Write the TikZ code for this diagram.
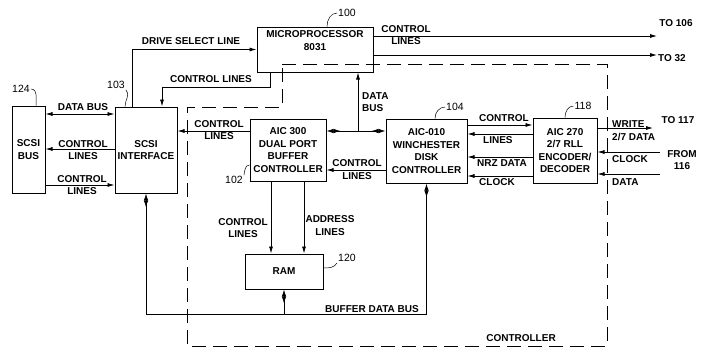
\documentclass[tikz,border=0pt]{standalone}
\usepackage{fontspec}
\setmainfont{Liberation Sans}
\usetikzlibrary{arrows.meta}

\begin{document}
\begin{tikzpicture}[>={Latex[length=7pt,width=4pt]}, x=1pt, y=-1pt, font=\fontsize{10}{12.5}\selectfont\bfseries,
  blk/.style={draw, line width=1pt, align=center, inner sep=0pt},
  wire/.style={line width=0.8pt},
  both/.style={wire, -{Latex[length=7pt,width=4.5pt,reversed]Latex[length=7pt,width=4.5pt]}},
  lbl/.style={inner sep=0pt, align=center},
  refno/.style={inner sep=1pt, font=\fontsize{10.5}{12}\selectfont},
  lead/.style={line width=0.5pt}]

\useasboundingbox (0,0) rectangle (701,351);

% blocks
\node[blk, minimum width=33, minimum height=87] (scsibus) at (28.5,149.5) {SCSI\\BUS}; %124
\node[blk, minimum width=62, minimum height=86] (scsiif) at (146,150) {SCSI\\INTERFACE}; %103
\node[blk, minimum width=116, minimum height=45] (micro) at (315,49.5) {MICROPROCESSOR\\8031\\[5pt]\mbox{}}; %100
\node[blk, minimum width=76, minimum height=62] (aic300) at (288,150) {AIC 300\\DUAL PORT\\BUFFER\\CONTROLLER}; %102
\node[blk, minimum width=81, minimum height=64] (aic010) at (426.5,151) {AIC-010\\WINCHESTER\\DISK\\CONTROLLER}; %104
\node[blk, minimum width=64, minimum height=65] (aic270) at (565,150.5) {AIC 270\\2/7 RLL\\ENCODER/\\DECODER}; %118
\node[blk, minimum width=78, minimum height=35] (ram) at (284,271.5) {RAM}; %120

% levels and bends
\coordinate (ydb) at (0,114);
\coordinate (yc1) at (0,149);
\coordinate (yc2) at (0,185);
\coordinate (yc3) at (0,170);
\coordinate (yw1) at (0,125);
\coordinate (yw2) at (0,134);
\coordinate (yw3) at (0,157);
\coordinate (yw4) at (0,176);
\coordinate (jn) at (358,131); %data bus junction
\coordinate (ds) at (132,0);
\coordinate (cl1) at (270,87);
\coordinate (cl2) at (162,87);
\coordinate (rc) at (271,0);
\coordinate (ra) at (304,0);
\coordinate (to106) at (657,36);
\coordinate (to32) at (657,55);
\coordinate (to117) at (653,128);
\coordinate (fclk) at (660,152);
\coordinate (fdat) at (660,174);
\coordinate (bufl) at (146,314);
\coordinate (bufr) at (426.5,314);

% scsi side
\draw[wire, <->] (scsibus.east |- ydb) -- (scsiif.west |- ydb);
\draw[wire, ->] (scsiif.west |- yc1) -- (scsibus.east |- yc1);
\draw[wire, ->] (scsibus.east |- yc2) -- (scsiif.west |- yc2);
\node[lbl] (tdb) at (83,107) {DATA BUS};
\node[lbl] (tc1) at (83,150) {CONTROL\\LINES};
\node[lbl] (tc2) at (82,185) {CONTROL\\LINES};

% microprocessor
\draw[wire, ->] (scsiif.north -| ds) |- (micro.west);
\draw[wire, ->] (micro.south -| cl1) -- (cl1) -- (cl2) -- (scsiif.north -| cl2);
\draw[wire, ->] (micro.east |- to106) -- (to106);
\draw[wire, ->] (micro.east |- to32) -- (to32);
\draw[wire, ->] (jn) -- (micro.south -| jn);
\node[lbl] (tds) at (191,41) {DRIVE SELECT LINE};
\node[lbl] (tcm) at (211,79) {CONTROL LINES};
\node[lbl] (tcr) at (406,35) {CONTROL\\LINES};
\node[lbl, anchor=west, align=left] (tbus) at (362,102) {DATA\\BUS};
\node[lbl] (t106) at (676,23) {TO 106};
\node[lbl] (t32) at (672,58) {TO 32};

% buffer and disk controllers
\draw[both] (jn) -- (aic300.east |- jn);
\draw[both] (jn) -- (aic010.west |- jn);
\draw[wire, ->] (aic300.west |- jn) -- (scsiif.east |- jn);
\draw[wire, ->] (aic010.west |- yc3) -- (aic300.east |- yc3);
\draw[wire, ->] (aic300.south -| rc) -- (ram.north -| rc);
\draw[wire, ->] (aic300.south -| ra) -- (ram.north -| ra);
\node[lbl] (tc3) at (219,130) {CONTROL\\LINES};
\node[lbl] (tc4) at (357,169.5) {CONTROL\\LINES};
\node[lbl] (tc5) at (243,228) {CONTROL\\LINES};
\node[lbl] (tad) at (330,225.5) {ADDRESS\\LINES};

% encoder
\draw[wire, ->] (aic010.east |- yw1) -- (aic270.west |- yw1);
\draw[wire, ->] (aic270.west |- yw2) -- (aic010.east |- yw2);
\draw[wire, ->] (aic270.west |- yw3) -- (aic010.east |- yw3);
\draw[wire, ->] (aic270.west |- yw4) -- (aic010.east |- yw4);
\node[lbl, anchor=west] (tw1) at (479,118) {CONTROL};
\node[lbl, anchor=west] (tw2) at (483,140) {LINES};
\node[lbl, anchor=west] (tw3) at (477,163) {NRZ DATA};
\node[lbl, anchor=west] (tw4) at (479,182) {CLOCK};
\draw[wire, ->] (aic270.east |- to117) -- (to117);
\draw[wire, ->] (fclk) -- (aic270.east |- fclk);
\draw[wire, ->] (fdat) -- (aic270.east |- fdat);
\node[lbl, anchor=west, align=left] (twr) at (612,130.5) {WRITE\\2/7 DATA};
\node[lbl, anchor=west] (tck) at (612,159) {CLOCK};
\node[lbl, anchor=west] (tdt) at (612,182) {DATA};
\node[lbl] (t117) at (678,120) {TO 117};
\node[lbl] (t116) at (682,160) {FROM\\116};

% buffer data bus
\draw[wire] (bufl) -- (bufr);
\draw[both] (bufl) -- (scsiif.south);
\draw[both] (bufr) -- (aic010.south);
\draw[both] (ram.south |- bufl) -- (ram.south);
\node[lbl] (tbb) at (372,309) {BUFFER DATA BUS};

% controller boundary
\draw[line width=0.8pt, dash pattern=on 14pt off 7pt] (282,64) -- (607,64) -- (607,346) -- (187,346) -- (187,107) -- (282,107) -- cycle;
\node[lbl] (tctl) at (521,338) {CONTROLLER};

% reference numerals
\node[refno] (n124) at (21,89) {124};
\draw[lead] (n124.east) to[out=0, in=90] ([xshift=7.5pt]scsibus.north);
\node[refno] (n103) at (116,85) {103};
\draw[lead] (n103.south east) to[out=-45, in=90] ([xshift=-21pt]scsiif.north);
\node[refno] (n100) at (347,13) {100};
\draw[lead] (n100.west) to[out=180, in=90] ([xshift=12pt]micro.north);
\node[refno] (n104) at (455,107) {104};
\draw[lead] (n104.west) to[out=180, in=90] ([xshift=8.5pt]aic010.north);
\node[refno] (n118) at (583,106) {118};
\draw[lead] (n118.west) to[out=180, in=90] (aic270.north);
\node[refno] (n102) at (234,180) {102};
\draw[lead] (n102.north east) to[out=80, in=180] ([yshift=-15pt]aic300.west);
\node[refno] (n120) at (347,258) {120};
\draw[lead] (n120.south west) to[out=-120, in=0] ([yshift=3.5pt]ram.east);

\end{tikzpicture}
\end{document}
